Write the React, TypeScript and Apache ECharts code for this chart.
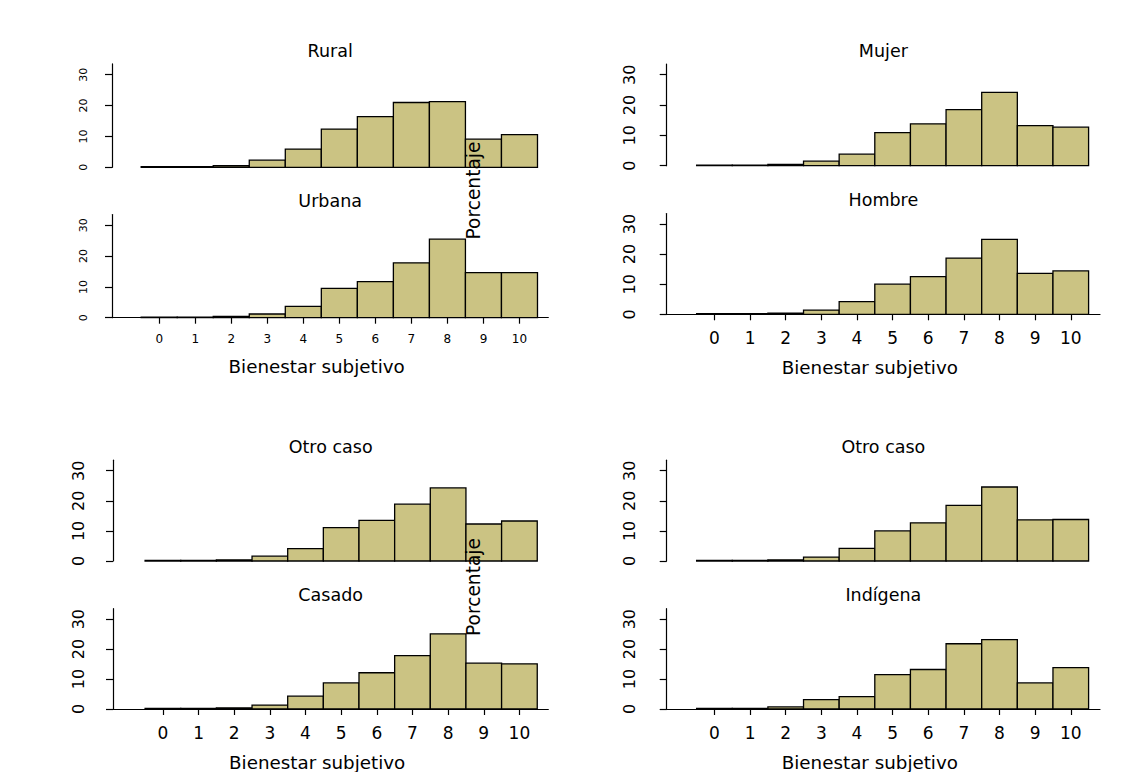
import React, { useEffect, useRef } from "react";
import * as echarts from "echarts";

// ---- data ----
const scores = [0, 1, 2, 3, 4, 5, 6, 7, 8, 9, 10];
const yTicks = [0, 10, 20, 30];
const panelTitles = ["Rural", "Urbana", "Mujer", "Hombre", "Otro caso", "Casado", "Otro caso", "Indígena"];
const rural = [0.2, 0.2, 0.5, 2.3, 5.9, 12.4, 16.4, 21.0, 21.3, 9.1, 10.6];
const urbana = [0.2, 0.2, 0.4, 1.2, 3.7, 9.5, 11.7, 17.8, 25.5, 14.6, 14.6];
const mujer = [0.2, 0.2, 0.4, 1.5, 3.8, 10.9, 13.8, 18.5, 24.2, 13.2, 12.7];
const hombre = [0.2, 0.2, 0.4, 1.4, 4.2, 10.0, 12.5, 18.7, 24.9, 13.6, 14.4];
const otroCasoCivil = [0.2, 0.2, 0.4, 1.6, 4.1, 11.1, 13.5, 18.9, 24.3, 12.3, 13.3];
const casado = [0.2, 0.2, 0.4, 1.3, 4.3, 8.7, 12.1, 17.8, 25.1, 15.3, 15.1];
const otroCasoEtnia = [0.2, 0.2, 0.4, 1.3, 4.2, 10.0, 12.7, 18.5, 24.6, 13.7, 13.8];
const indigena = [0.2, 0.2, 0.7, 3.1, 4.1, 11.5, 13.2, 21.8, 23.2, 8.7, 13.8];
const panelValues = [rural, urbana, mujer, hombre, otroCasoCivil, casado, otroCasoEtnia, indigena];
const xAxisName = "Bienestar subjetivo";
const yAxisName = "Porcentaje";

// ---- layout ----
const FONT = "'DejaVu Sans', 'Liberation Sans', Arial, sans-serif";
const BAR_FILL = "#CBC383";
const Y_MAX = 33.5;
type Layout = {
  left: number; top: number; width: number; height: number;
  xmin: number; xmax: number; bottom: boolean; small: boolean;
  titleY: number; yLabelMargin: number;
};
const layouts: Layout[] = [
  { left: 112, top: 63.9, width: 436.3, height: 103.4, xmin: -1.31, xmax: 10.8, bottom: false, small: true, titleY: 50.7, yLabelMargin: 23 },
  { left: 112, top: 214.5, width: 436.3, height: 103.2, xmin: -1.31, xmax: 10.8, bottom: true, small: true, titleY: 201, yLabelMargin: 23 },
  { left: 666.7, top: 64.1, width: 433.3, height: 101.6, xmin: -1.34, xmax: 10.82, bottom: false, small: false, titleY: 51, yLabelMargin: 29 },
  { left: 666.7, top: 213.5, width: 433.3, height: 100.8, xmin: -1.34, xmax: 10.82, bottom: true, small: false, titleY: 200, yLabelMargin: 29 },
  { left: 113, top: 460.2, width: 435.3, height: 100.8, xmin: -1.4, xmax: 10.81, bottom: false, small: false, titleY: 446.7, yLabelMargin: 27 },
  { left: 113, top: 608.7, width: 435.3, height: 101.6, xmin: -1.4, xmax: 10.81, bottom: true, small: false, titleY: 595, yLabelMargin: 27 },
  { left: 666.7, top: 460.2, width: 433.3, height: 100.8, xmin: -1.34, xmax: 10.82, bottom: false, small: false, titleY: 446.7, yLabelMargin: 29 },
  { left: 666.7, top: 608.7, width: 433.3, height: 101.6, xmin: -1.34, xmax: 10.82, bottom: true, small: false, titleY: 595, yLabelMargin: 29 },
];
const porcentajePositions = [
  { x: 473, y: 190.5 },
  { x: 473, y: 587 },
];

function buildOption() {
  const grid: any[] = [];
  const xAxis: any[] = [];
  const yAxis: any[] = [];
  const series: any[] = [];
  const title: any[] = [];
  layouts.forEach((L, i) => {
    grid.push({ left: L.left, top: L.top, width: L.width, height: L.height, containLabel: false });
    const tickFont = L.small ? 12 : 17;
    const yFont = L.small ? 11 : 16;
    xAxis.push({
      type: "value",
      gridIndex: i,
      min: L.xmin,
      max: L.xmax,
      splitLine: { show: false },
      axisLine: { show: L.bottom, onZero: false, lineStyle: { color: "#000", width: 1.2 } },
      axisTick: { show: L.bottom, length: 6, customValues: scores, lineStyle: { color: "#000", width: 1.2 } },
      axisLabel: {
        show: L.bottom,
        customValues: scores,
        fontSize: tickFont,
        fontFamily: FONT,
        color: "#000",
        margin: L.small ? 15 : 15,
      },
      name: L.bottom ? xAxisName : "",
      nameLocation: "middle",
      nameGap: L.small ? 40 : 44,
      nameTextStyle: { fontSize: 18.3, fontFamily: FONT, color: "#000", padding: [0, 27, 0, 0] },
    });
    yAxis.push({
      type: "value",
      gridIndex: i,
      min: 0,
      max: Y_MAX,
      splitLine: { show: false },
      axisLine: { show: true, onZero: false, lineStyle: { color: "#000", width: 1.2 } },
      axisTick: { show: true, length: 7, customValues: yTicks, lineStyle: { color: "#000", width: 1.2 } },
      axisLabel: {
        customValues: yTicks,
        rotate: 90,
        fontSize: yFont,
        fontFamily: FONT,
        color: "#000",
        margin: L.yLabelMargin,
      },
    });
    title.push({
      text: panelTitles[i],
      left: L.left + L.width / 2,
      top: L.titleY - 10,
      textAlign: "center",
      padding: 0,
      textStyle: { fontSize: 17.5, fontWeight: "normal", fontFamily: FONT, color: "#000", lineHeight: 20 },
    });
    const vals = panelValues[i];
    series.push({
      type: "custom",
      xAxisIndex: i,
      yAxisIndex: i,
      data: scores.map((s, k) => [s, vals[k]]),
      encode: { x: 0, y: 1 },
      renderItem: (_params: any, api: any) => {
        const x = api.value(0);
        const y = api.value(1);
        const p0 = api.coord([x - 0.5, y]);
        const p1 = api.coord([x + 0.5, 0]);
        return {
          type: "rect",
          shape: { x: p0[0], y: p0[1], width: p1[0] - p0[0], height: p1[1] - p0[1] },
          style: { fill: BAR_FILL, stroke: "#000", lineWidth: 1.3 },
        };
      },
    });
  });
  const graphic = porcentajePositions.map((p) => ({
    type: "text",
    x: p.x,
    y: p.y,
    rotation: Math.PI / 2,
    z: 100,
    style: {
      text: yAxisName,
      fontSize: 18.6,
      fontFamily: FONT,
      fill: "#000",
      align: "center",
      verticalAlign: "middle",
    },
  }));
  return {
    animation: false,
    backgroundColor: "#fff",
    title,
    grid,
    xAxis,
    yAxis,
    series,
    graphic,
  };
}

export default function App() {
  const ref = useRef<HTMLDivElement>(null);
  useEffect(() => {
    if (!ref.current) return;
    const chart = echarts.init(ref.current, undefined, { renderer: "svg" });
    chart.setOption(buildOption() as any);
    return () => chart.dispose();
  }, []);
  return (
    <div
      ref={ref}
      style={{ position: "absolute", left: 0, top: 0, width: 1138, height: 772 }}
    />
  );
}
